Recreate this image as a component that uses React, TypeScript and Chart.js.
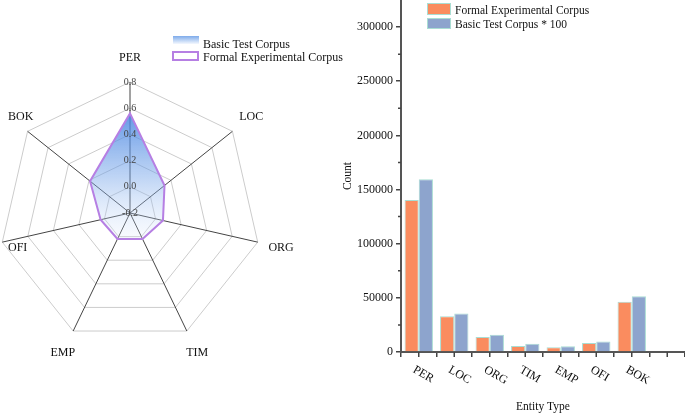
import { useEffect, useRef } from "react";
import { Chart, registerables } from "chart.js";

Chart.register(...registerables);

const FONT = "'Liberation Serif', 'Times New Roman', serif";

const categories = ["PER", "LOC", "ORG", "TIM", "EMP", "OFI", "BOK"];
// counts for the bar chart (basic corpus already multiplied by 100)
const formalCounts = [140300, 33000, 13900, 5500, 4300, 8300, 46300];
const basicCounts = [159400, 35500, 16000, 7700, 5200, 9600, 51500];
const countTicks = [0, 50000, 100000, 150000, 200000, 250000, 300000];
// share of each entity type for the radar chart
const formalShare = [0.56, 0.137, 0.058, 0.02, 0.02, 0.03, 0.19];
const basicShare = [0.56, 0.135, 0.057, 0.022, 0.019, 0.031, 0.188];

const RADAR_SHIFT = 30;

const radarLabels = {
  id: "radarLabels",
  afterDraw(chart: any) {
    const r = chart.scales.r;
    const ctx = chart.ctx;
    ctx.save();
    ctx.font = `12px ${FONT}`;
    ctx.fillStyle = "#111";
    ctx.textAlign = "center";
    ctx.textBaseline = "middle";
    categories.forEach((c, i) => {
      const p = r.getPointPosition(i, r.drawingArea + 24);
      const w = ctx.measureText(c).width;
      const x = Math.max(p.x, RADAR_SHIFT + 8 + w / 2);
      ctx.fillText(c, x, p.y);
    });
    ctx.restore();
  },
};

const barExtras = {
  id: "barExtras",
  afterDraw(chart: any) {
    const { ctx } = chart;
    const xs = chart.scales.x;
    const ys = chart.scales.y;
    ctx.save();
    ctx.strokeStyle = "#444";
    ctx.lineWidth = 1.5;
    ctx.beginPath();
    for (let v = 25000; v < ys.max; v += 50000) {
      const y = ys.getPixelForValue(v);
      ctx.moveTo(ys.right - 3, y);
      ctx.lineTo(ys.right, y);
    }
    for (let i = 0; i <= Math.floor(xs.max); i++) {
      const x = xs.getPixelForValue(i);
      ctx.moveTo(x, xs.top);
      ctx.lineTo(x, xs.top + 5);
    }
    ctx.stroke();
    ctx.font = `12px ${FONT}`;
    ctx.fillStyle = "#111";
    ctx.textAlign = "left";
    ctx.textBaseline = "middle";
    categories.forEach((c, i) => {
      const x = xs.getPixelForValue(i);
      ctx.save();
      ctx.translate(x - 5, xs.top + 17);
      ctx.rotate(Math.PI / 6);
      ctx.fillText(c, 0, 0);
      ctx.restore();
    });
    ctx.restore();
  },
};

export default function App() {
  const radarRef = useRef<HTMLCanvasElement>(null);
  const barRef = useRef<HTMLCanvasElement>(null);

  useEffect(() => {
    const radar = new Chart(radarRef.current!, {
      type: "radar",
      data: {
        labels: categories,
        datasets: [
          {
            label: "Formal Experimental Corpus",
            data: formalShare,
            borderColor: "#B67FE3",
            borderWidth: 2,
            fill: false,
            backgroundColor: "transparent",
          },
          {
            label: "Basic Test Corpus",
            data: basicShare,
            borderWidth: 0,
            fill: "start",
            backgroundColor: (c: any) => {
              const chart = c.chart;
              const r = chart.scales.r;
              if (!chart.chartArea || !r) return "rgba(110,159,230,0.5)";
              const ys = basicShare.map((v, i) => r.getPointPositionForValue(i, v).y);
              const g = chart.ctx.createLinearGradient(0, Math.min(...ys), 0, Math.max(...ys));
              g.addColorStop(0, "rgba(72,133,225,0.85)");
              g.addColorStop(0.5, "rgba(110,160,232,0.45)");
              g.addColorStop(1, "rgba(225,235,252,0.2)");
              return g;
            },
          },
        ],
      },
      options: {
        animation: false,
        responsive: false,
        layout: { padding: { left: 22, top: 75, right: 77, bottom: 63 } },
        plugins: { legend: { display: false }, tooltip: { enabled: false } },
        elements: { point: { radius: 0 }, line: { tension: 0 } },
        scales: {
          r: {
            min: -0.2,
            max: 0.8,
            ticks: {
              stepSize: 0.2,
              z: 1,
              showLabelBackdrop: false,
              color: "#444",
              font: { size: 10, family: FONT },
              callback: (v: any) => (Math.abs(Number(v)) < 1e-9 ? "0.0" : Number(v).toFixed(1)),
            },
            grid: { color: "#cccccc", lineWidth: 1 },
            angleLines: { color: "#444", lineWidth: 1 },
            pointLabels: { display: false },
          },
        },
      },
      plugins: [radarLabels],
    });

    const bar = new Chart(barRef.current!, {
      type: "bar",
      data: {
        datasets: [
          {
            label: "Formal Experimental Corpus",
            data: categories.map((_, i) => ({ x: i, y: formalCounts[i] })),
            backgroundColor: "#FA8C5F",
            borderColor: "#A9DDD3",
            borderWidth: 1,
          },
          {
            label: "Basic Test Corpus * 100",
            data: categories.map((_, i) => ({ x: i, y: basicCounts[i] })),
            backgroundColor: "#8DA4CD",
            borderColor: "#A9DDD3",
            borderWidth: 1,
          },
        ],
      },
      options: {
        animation: false,
        responsive: false,
        datasets: { bar: { categoryPercentage: 0.8, barPercentage: 1 } },
        layout: { padding: 0 },
        plugins: { legend: { display: false }, tooltip: { enabled: false } },
        scales: {
          x: {
            type: "linear",
            min: -0.5,
            max: 7.5,
            offset: false,
            afterFit: (s: any) => {
              s.height = 62;
              s.paddingLeft = 0;
              s.paddingRight = 0;
            },
            ticks: { display: false, stepSize: 1 },
            grid: { offset: false, drawOnChartArea: false, tickLength: 5, color: "#444", lineWidth: 1.5 },
            border: { color: "#555", width: 2 },
            title: { display: true, text: "Entity Type", color: "#111", font: { size: 11.5, family: FONT }, padding: 0 },
          },
          y: {
            min: 0,
            max: 325000,
            afterFit: (s: any) => {
              s.width = 61;
              s.paddingTop = 0;
              s.paddingBottom = 0;
            },
            afterBuildTicks: (s: any) => {
              s.ticks = countTicks.map((v) => ({ value: v }));
            },
            ticks: { padding: 3, color: "#111", font: { size: 12, family: FONT }, callback: (v: any) => String(v) },
            grid: { drawOnChartArea: false, tickLength: 5, color: "#444", lineWidth: 1.5 },
            border: { color: "#555", width: 2 },
            title: { display: true, text: "Count", color: "#111", font: { size: 11.5, family: FONT }, padding: { top: 1, bottom: 0 } },
          },
        },
      },
      plugins: [barExtras],
    });

    return () => {
      radar.destroy();
      bar.destroy();
    };
  }, []);

  const text = { position: "absolute" as const, fontSize: 12, lineHeight: "14px", color: "#111", whiteSpace: "nowrap" as const };

  return (
    <div style={{ position: "fixed", left: 0, top: 0, width: 685, height: 414, overflow: "hidden", background: "#fff", fontFamily: FONT }}>
      <canvas ref={radarRef} width={375} height={414} style={{ position: "absolute", left: -RADAR_SHIFT, top: 0 }} />
      <canvas ref={barRef} width={345} height={414} style={{ position: "absolute", left: 340, top: 0 }} />

      <div style={{ position: "absolute", left: 173, top: 36, width: 26, height: 8, background: "linear-gradient(#7EABEA, #F4F8FE)" }} />
      <div style={{ ...text, left: 203, top: 37 }}>Basic Test Corpus</div>
      <div style={{ position: "absolute", left: 172, top: 51, width: 27, height: 10, boxSizing: "border-box", border: "2px solid #B67FE3" }} />
      <div style={{ ...text, left: 203, top: 49.5 }}>Formal Experimental Corpus</div>

      <div style={{ position: "absolute", left: 427, top: 3, width: 24, height: 12, boxSizing: "border-box", background: "#FA8C5F", border: "1px solid #A9DDD3" }} />
      <div style={{ ...text, fontSize: 11.5, left: 455, top: 2.5 }}>Formal Experimental Corpus</div>
      <div style={{ position: "absolute", left: 427, top: 18, width: 24, height: 11, boxSizing: "border-box", background: "#8DA4CD", border: "1px solid #A9DDD3" }} />
      <div style={{ ...text, fontSize: 11.5, left: 455, top: 16.5 }}>Basic Test Corpus * 100</div>
    </div>
  );
}
